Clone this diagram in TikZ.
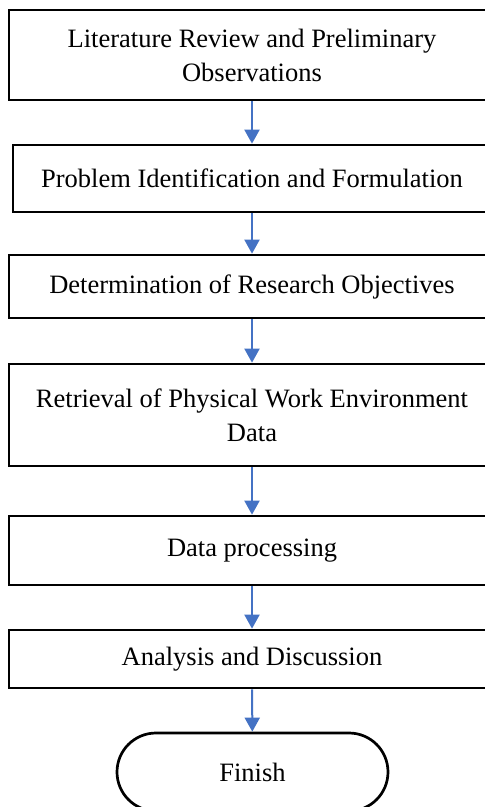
\documentclass[tikz,border=0pt]{standalone}
\usepackage{fontspec}
\setmainfont{Liberation Serif}
\usetikzlibrary{arrows.meta}
\definecolor{flowblue}{HTML}{4472C4}
\begin{document}
\begin{tikzpicture}[x=1pt,y=-1pt,
  stepbox/.style={draw=black,line width=2.7pt,rectangle,inner sep=0pt,
    align=center,font=\fontsize{26.5}{34}\selectfont},
  endbox/.style={draw=black,line width=2.7pt,rectangle,rounded corners=39pt,
    inner sep=0pt,minimum width=271pt,minimum height=78pt,
    font=\fontsize{26.5}{34}\selectfont},
  flow/.style={draw=flowblue,line width=2pt,
    -{Triangle[width=15pt,length=14pt]}}]
\useasboundingbox (0,0) rectangle (485,807);
\clip (0,0) rectangle (485,807);
\fill[white] (0,0) rectangle (485,807);

% process steps
\node[stepbox,minimum width=486pt,minimum height=90pt] (b1) at (252,55)
  {Literature Review and Preliminary\\Observations};
\node[stepbox,minimum width=478pt,minimum height=67pt] (b2) at (252,178.5)
  {Problem Identification and Formulation};
\node[stepbox,minimum width=486pt,minimum height=63pt] (b3) at (252,286.5)
  {Determination of Research Objectives};
\node[stepbox,minimum width=486pt,minimum height=102pt] (b4) at (252,415)
  {Retrieval of Physical Work Environment\\Data};
\node[stepbox,minimum width=486pt,minimum height=69pt] (b5) at (252,550.5)
  {Data processing};
\node[stepbox,minimum width=486pt,minimum height=58pt] (b6) at (252,659)
  {Analysis and Discussion};
\node[endbox] (fin) at (252.5,772) {Finish};

% connectors
\draw[flow] (b1) -- (b2);
\draw[flow] (b2) -- (b3);
\draw[flow] (b3) -- (b4);
\draw[flow] (b4) -- (b5);
\draw[flow] (b5) -- (b6);
\draw[flow] (b6) -- (fin);
\end{tikzpicture}
\end{document}
